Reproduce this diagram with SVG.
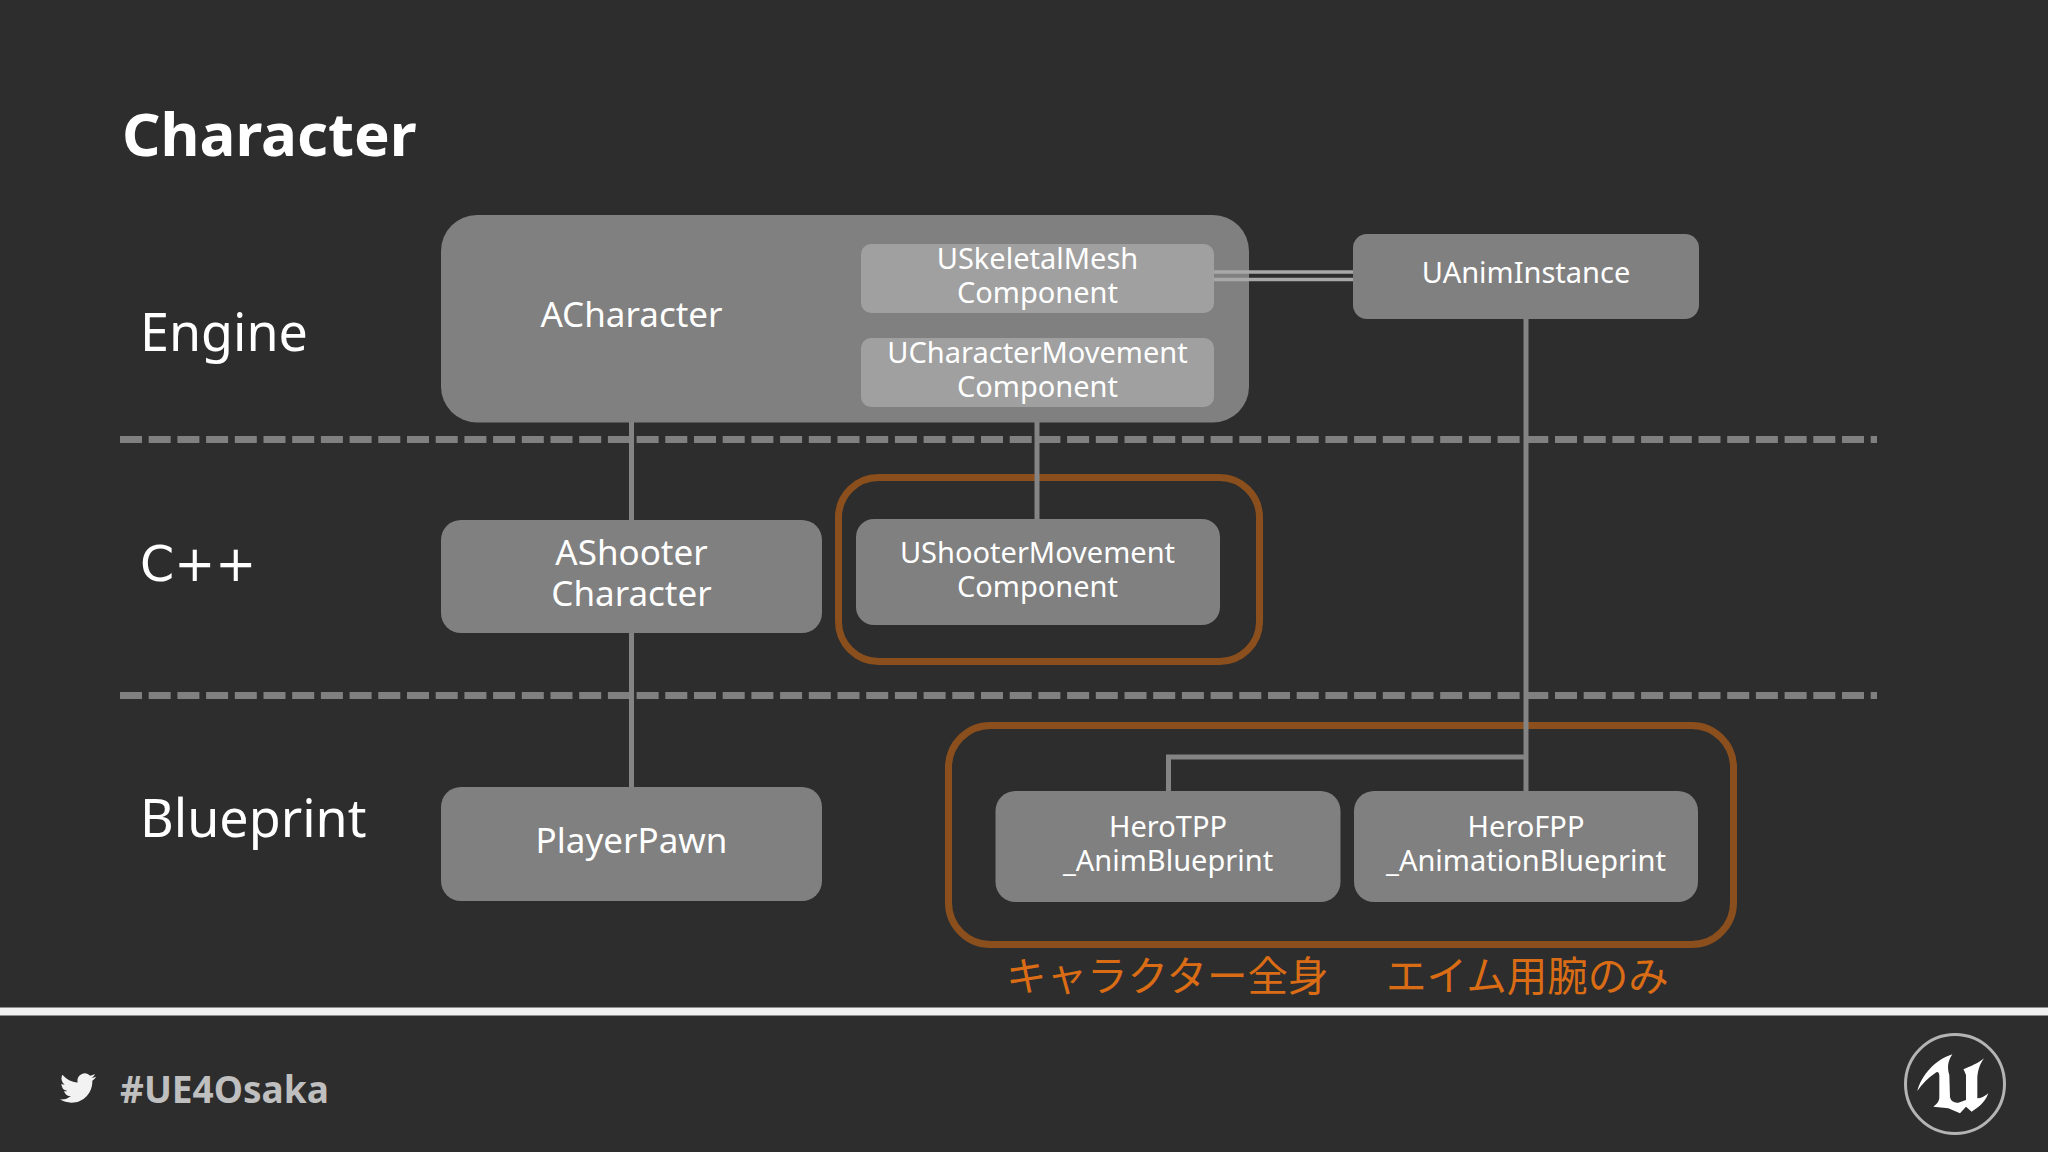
<svg xmlns="http://www.w3.org/2000/svg" width="2048" height="1152" viewBox="0 0 2048 1152">
<style>
text{font-family:"Noto Sans","Noto Sans CJK JP",sans-serif;fill:#fff;text-anchor:middle}
.n{fill:#808080}.i{fill:#a0a0a0}
.t{font-size:35px}.s{font-size:29px}
.h{font-size:52px;text-anchor:start}
.c{fill:none;stroke:#848484;stroke-width:5}
.d{fill:none;stroke:#808080;stroke-width:7;stroke-dasharray:22 6.7}
.o{fill:none;stroke:#8a4f1c;stroke-width:7}
.j{font-family:"Noto Sans CJK JP",sans-serif;font-size:40.500px;fill:#d96c14;text-anchor:start}
</style>
<rect width="2048" height="1152" fill="#2d2d2d"/>
<text x="122" y="156" style="font-size:60px;font-weight:bold;text-anchor:start">Character</text>
<g id="labels">
<text class="h" x="140" y="351">Engine</text>
<text class="h" x="140" y="581" style="font-family:'DejaVu Sans',sans-serif;font-size:49px">C++</text>
<text class="h" x="140" y="837">Blueprint</text>
</g>
<g id="dividers">
<path class="d" d="M120 439.500H1877"/>
<path class="d" d="M120 695.500H1877"/>
</g>
<g id="group-movement"><rect class="o" x="838.500" y="477.500" width="421" height="184" rx="40"/></g>
<g id="group-anim"><rect class="o" x="948.500" y="725.500" width="785" height="219" rx="42"/></g>
<g id="ACharacter"><rect class="n" x="441" y="215" width="808" height="207.500" rx="36"/>
<text class="t" x="631.500" y="327">ACharacter</text></g>
<g id="connectors">
<path class="c" d="M631.500 422V520M631.500 633V787M1037 422V519M1526 319V791M1526 757H1168.500V791"/>
<path class="c" style="stroke:#a8a8a8;stroke-width:3.500" d="M1214 272H1353M1214 279.500H1353"/>
</g>
<g id="USkeletalMeshComponent"><rect class="i" x="861" y="244" width="353" height="69" rx="10"/>
<text class="s" x="1037.500" y="269">USkeletalMesh</text><text class="s" x="1037.500" y="303">Component</text></g>
<g id="UCharacterMovementComponent"><rect class="i" x="861" y="338" width="353" height="69" rx="10"/>
<text class="s" x="1037.500" y="363">UCharacterMovement</text><text class="s" x="1037.500" y="397">Component</text></g>
<g id="UAnimInstance"><rect class="n" x="1353" y="234" width="346" height="85" rx="14"/>
<text class="s" x="1526" y="283">UAnimInstance</text></g>
<g id="AShooterCharacter"><rect class="n" x="441" y="520" width="381" height="113" rx="20"/>
<text class="t" x="631.500" y="565">AShooter</text><text class="t" x="631.500" y="606">Character</text></g>
<g id="UShooterMovementComponent"><rect class="n" x="856" y="519" width="364" height="106" rx="18"/>
<text class="s" x="1037.500" y="563">UShooterMovement</text><text class="s" x="1037.500" y="597">Component</text></g>
<g id="PlayerPawn"><rect class="n" x="441" y="787" width="381" height="114" rx="20"/>
<text class="t" x="631.500" y="853">PlayerPawn</text></g>
<g id="HeroTPP"><rect class="n" x="995.500" y="791" width="345" height="111" rx="20"/>
<text class="s" x="1168" y="837">HeroTPP</text><text class="s" x="1168" y="871">_AnimBlueprint</text></g>
<g id="HeroFPP"><rect class="n" x="1354" y="791" width="344" height="111" rx="20"/>
<text class="s" x="1526" y="837">HeroFPP</text><text class="s" x="1526" y="871">_AnimationBlueprint</text></g>
<text class="j" x="1006" y="991">キャラクター全身</text>
<text class="j" x="1386" y="991">エイム用腕のみ</text>
<rect y="1007.500" width="2048" height="8" fill="#f0f0f0"/>
<g id="twitter"><path fill="#f2f2f2" transform="translate(60 1070) scale(1.5)" d="M23.953 4.57a10 10 0 01-2.825.775 4.958 4.958 0 002.163-2.723c-.951.555-2.005.959-3.127 1.184a4.92 4.92 0 00-8.384 4.482C7.69 8.095 4.067 6.13 1.64 3.162a4.822 4.822 0 00-.666 2.475c0 1.71.87 3.213 2.188 4.096a4.904 4.904 0 01-2.228-.616v.06a4.923 4.923 0 003.946 4.827 4.996 4.996 0 01-2.212.085 4.936 4.936 0 004.604 3.417 9.867 9.867 0 01-6.102 2.105c-.39 0-.779-.023-1.17-.067a13.995 13.995 0 007.557 2.209c9.053 0 13.998-7.496 13.998-13.985 0-.21 0-.42-.015-.63A9.935 9.935 0 0024 4.59z"/></g>
<text x="120" y="1103" style="font-size:37px;font-weight:bold;fill:#bfbfbf;text-anchor:start">#UE4Osaka</text>
<g id="logo"><circle cx="1955" cy="1084" r="49.500" fill="none" stroke="#b4b4b4" stroke-width="3"/>
<path fill="#fff" transform="translate(1860 1010) scale(.3333)" d="M172 243C185 195 225 150 277 133C262 155 262 175 268 195L270 262Q275 280 295 278L318 270V195Q312 180 310 178C330 170 355 160 372 145C358 165 352 185 352 210V265Q368 265 385 250C375 280 350 295 335 305L318 290L300 310L265 295L220 290Q240 275 238 260V195Q236 180 225 190Q195 210 172 243Z"/></g>
</svg>
